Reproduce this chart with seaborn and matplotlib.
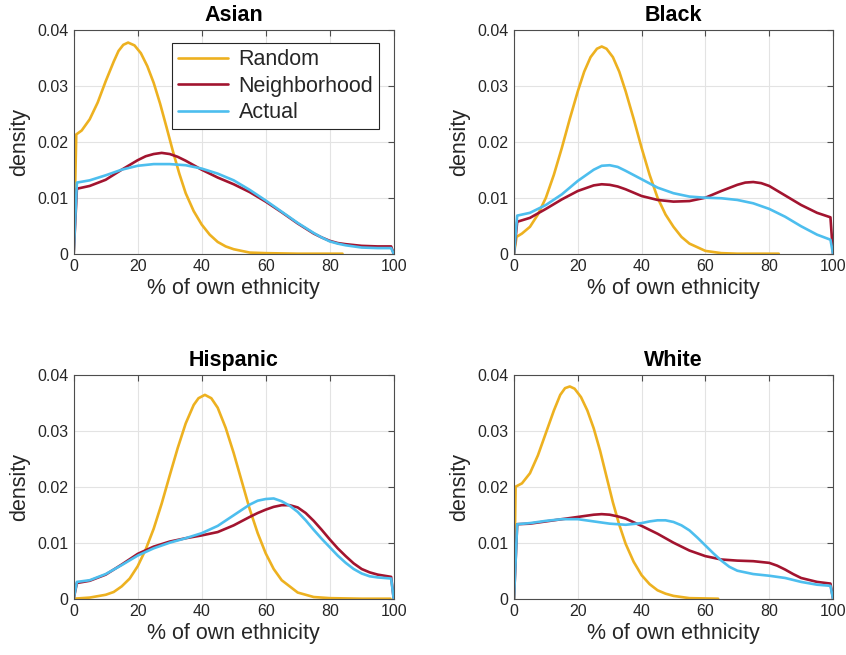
import matplotlib
matplotlib.use("Agg")
import matplotlib.pyplot as plt
import pandas as pd
import seaborn as sns

# ---- data: density of "% of own ethnicity" by group and scenario ----
series_names = ["Random", "Neighborhood", "Actual"]
series_colors = ["#EDB120", "#A2142F", "#4DBEEE"]
panel_titles = ["Asian", "Black", "Hispanic", "White"]

x_ticks = [0, 20, 40, 60, 80, 100]
y_ticks = [0, 0.01, 0.02, 0.03, 0.04]
y_tick_labels = ["0", "0.01", "0.02", "0.03", "0.04"]

# Asian
asian_random_x = [0, 0.8, 2.5, 5, 7.5, 10, 12.5, 14, 15.5, 17, 19, 21, 23, 25, 27, 29, 31, 33, 35, 37.5, 40, 42.5, 45, 47.5, 50, 55, 60, 70, 84]
asian_random_y = [0, 0.0213, 0.0220, 0.0240, 0.0270, 0.0308, 0.0343, 0.0362, 0.0373, 0.0377, 0.0372, 0.0358, 0.0335, 0.0305, 0.0268, 0.0226, 0.0183, 0.0143, 0.0108, 0.0076, 0.0052, 0.0034, 0.0021, 0.0013, 0.0008, 0.0002, 0.0001, 0.0, 0.0]
asian_neigh_x = [0, 1, 5, 10, 15, 20, 22.5, 25, 27.5, 30, 32.5, 35, 40, 45, 50, 55, 60, 65, 70, 75, 77.5, 80, 82.5, 85, 90, 95, 99.2, 100]
asian_neigh_y = [0, 0.0116, 0.0121, 0.0132, 0.0150, 0.0167, 0.0174, 0.0178, 0.0180, 0.0178, 0.0173, 0.0166, 0.0150, 0.0136, 0.0124, 0.0110, 0.0093, 0.0074, 0.0054, 0.0036, 0.0029, 0.0023, 0.0019, 0.0017, 0.0014, 0.0013, 0.0013, 0]
asian_actual_x = [0, 1, 5, 10, 15, 20, 25, 30, 35, 40, 45, 50, 55, 60, 65, 70, 75, 77.5, 80, 82.5, 85, 90, 95, 99.2, 100]
asian_actual_y = [0, 0.0127, 0.0131, 0.0140, 0.0150, 0.0157, 0.0160, 0.0160, 0.0158, 0.0152, 0.0143, 0.0131, 0.0114, 0.0095, 0.0075, 0.0055, 0.0037, 0.0029, 0.0022, 0.0018, 0.0015, 0.0011, 0.0010, 0.0010, 0]

# Black
black_random_x = [0, 0.8, 2.5, 5, 7.5, 10, 12.5, 15, 17.5, 20, 22, 24, 26, 27.5, 29, 31, 33, 35, 37.5, 40, 42.5, 45, 47.5, 50, 52.5, 55, 60, 65, 70, 83]
black_random_y = [0, 0.0030, 0.0036, 0.0048, 0.0070, 0.0100, 0.0141, 0.0189, 0.0241, 0.0290, 0.0325, 0.0351, 0.0366, 0.0370, 0.0366, 0.0351, 0.0325, 0.0290, 0.0241, 0.0189, 0.0141, 0.0100, 0.0070, 0.0048, 0.0030, 0.0018, 0.0005, 0.0001, 0.0, 0.0]
black_neigh_x = [0, 1, 5, 10, 15, 20, 25, 27.5, 30, 32.5, 35, 40, 45, 50, 55, 60, 65, 70, 72.5, 75, 77.5, 80, 85, 90, 95, 99.2, 100]
black_neigh_y = [0, 0.0057, 0.0064, 0.0080, 0.0097, 0.0112, 0.0122, 0.0124, 0.0123, 0.0120, 0.0115, 0.0103, 0.0096, 0.0093, 0.0094, 0.0100, 0.0112, 0.0123, 0.0127, 0.0128, 0.0126, 0.0121, 0.0104, 0.0087, 0.0073, 0.0065, 0]
black_actual_x = [0, 1, 5, 10, 15, 20, 25, 27.5, 30, 32.5, 35, 40, 45, 50, 55, 60, 65, 70, 75, 80, 85, 90, 95, 99.2, 100]
black_actual_y = [0, 0.0068, 0.0073, 0.0087, 0.0106, 0.0130, 0.0150, 0.0157, 0.0158, 0.0155, 0.0148, 0.0133, 0.0118, 0.0108, 0.0102, 0.0100, 0.0099, 0.0096, 0.0090, 0.0080, 0.0066, 0.0049, 0.0034, 0.0025, 0]

# Hispanic
hisp_random_x = [0, 5, 10, 12.5, 15, 17.5, 20, 22.5, 25, 27.5, 30, 32.5, 35, 37.5, 39, 41, 43, 45, 47.5, 50, 52.5, 55, 57.5, 60, 62.5, 65, 70, 75, 80, 90, 99]
hisp_random_y = [0, 0.0002, 0.0007, 0.0012, 0.0022, 0.0036, 0.0058, 0.0088, 0.0125, 0.0170, 0.0220, 0.0269, 0.0313, 0.0346, 0.0358, 0.0364, 0.0358, 0.0341, 0.0305, 0.0260, 0.0210, 0.0160, 0.0117, 0.0081, 0.0053, 0.0033, 0.0011, 0.0003, 0.0001, 0.0, 0.0]
hisp_neigh_x = [0, 1, 5, 10, 15, 20, 25, 30, 35, 40, 45, 50, 55, 57.5, 60, 62.5, 65, 67.5, 70, 72.5, 75, 77.5, 80, 82.5, 85, 87.5, 90, 92.5, 95, 99.2, 100]
hisp_neigh_y = [0, 0.0028, 0.0032, 0.0043, 0.0061, 0.0080, 0.0093, 0.0102, 0.0108, 0.0113, 0.0119, 0.0131, 0.0146, 0.0153, 0.0159, 0.0164, 0.0167, 0.0167, 0.0163, 0.0153, 0.0139, 0.0123, 0.0106, 0.0090, 0.0076, 0.0063, 0.0053, 0.0047, 0.0043, 0.0039, 0]
hisp_actual_x = [0, 1, 5, 10, 15, 20, 25, 30, 35, 40, 45, 50, 55, 57.5, 60, 62.5, 65, 67.5, 70, 72.5, 75, 77.5, 80, 82.5, 85, 87.5, 90, 92.5, 95, 99.2, 100]
hisp_actual_y = [0, 0.0030, 0.0033, 0.0044, 0.0060, 0.0077, 0.0090, 0.0100, 0.0108, 0.0117, 0.0130, 0.0149, 0.0168, 0.0175, 0.0178, 0.0179, 0.0174, 0.0166, 0.0155, 0.0140, 0.0123, 0.0107, 0.0092, 0.0077, 0.0064, 0.0053, 0.0045, 0.0040, 0.0038, 0.0036, 0]

# White
white_random_x = [0, 0.5, 2.5, 5, 7.5, 10, 12.5, 14.5, 16, 17.5, 19, 21, 23, 25, 27, 29, 31, 33, 35, 37.5, 40, 42.5, 45, 47.5, 50, 55, 64]
white_random_y = [0, 0.0200, 0.0206, 0.0224, 0.0256, 0.0296, 0.0336, 0.0364, 0.0376, 0.0379, 0.0375, 0.0360, 0.0336, 0.0304, 0.0264, 0.0218, 0.0172, 0.0132, 0.0098, 0.0066, 0.0042, 0.0026, 0.0015, 0.0009, 0.0005, 0.0001, 0.0]
white_neigh_x = [0, 1, 5, 10, 15, 20, 25, 27.5, 30, 32.5, 35, 40, 45, 50, 55, 60, 65, 70, 75, 80, 82.5, 85, 87.5, 90, 95, 99.2, 100]
white_neigh_y = [0, 0.0133, 0.0134, 0.0138, 0.0142, 0.0146, 0.0150, 0.0151, 0.0150, 0.0147, 0.0143, 0.0130, 0.0116, 0.0100, 0.0086, 0.0076, 0.0070, 0.0068, 0.0067, 0.0064, 0.0059, 0.0052, 0.0044, 0.0037, 0.0030, 0.0027, 0]
white_actual_x = [0, 1, 5, 10, 15, 20, 25, 30, 35, 40, 42.5, 45, 47.5, 50, 52.5, 55, 57.5, 60, 62.5, 65, 67.5, 70, 75, 80, 85, 90, 95, 99.2, 100]
white_actual_y = [0, 0.0133, 0.0135, 0.0139, 0.0142, 0.0142, 0.0138, 0.0134, 0.0132, 0.0135, 0.0138, 0.0140, 0.0140, 0.0137, 0.0131, 0.0122, 0.0109, 0.0095, 0.0081, 0.0068, 0.0057, 0.0050, 0.0044, 0.0041, 0.0037, 0.0030, 0.0025, 0.0023, 0]

panel_series = {
    "Asian": [(asian_random_x, asian_random_y), (asian_neigh_x, asian_neigh_y), (asian_actual_x, asian_actual_y)],
    "Black": [(black_random_x, black_random_y), (black_neigh_x, black_neigh_y), (black_actual_x, black_actual_y)],
    "Hispanic": [(hisp_random_x, hisp_random_y), (hisp_neigh_x, hisp_neigh_y), (hisp_actual_x, hisp_actual_y)],
    "White": [(white_random_x, white_random_y), (white_neigh_x, white_neigh_y), (white_actual_x, white_actual_y)],
}

# ---- style ----
sns.set_theme(style="white")
plt.rcParams["font.family"] = ["Liberation Sans", "DejaVu Sans"]
plt.rcParams["axes.edgecolor"] = "#262626"
plt.rcParams["axes.linewidth"] = 0.8

fig = plt.figure(figsize=(8.46, 6.55), dpi=100)
W, H = 846, 655
# axes boxes in pixels: (left, top, width, height)
boxes = [(73.7, 29.7, 320, 224), (514, 29.7, 319, 224),
         (73.7, 374.7, 320, 224), (514, 374.7, 319, 224)]

palette = dict(zip(series_names, series_colors))

for i, (title, box) in enumerate(zip(panel_titles, boxes)):
    l, t, w, h = box
    ax = fig.add_axes([l / W, 1 - (t + h) / H, w / W, h / H])
    frames = []
    for name, (xs, ys) in zip(series_names, panel_series[title]):
        frames.append(pd.DataFrame({"x": xs, "density": ys, "series": name}))
    df = pd.concat(frames, ignore_index=True)
    sns.lineplot(data=df, x="x", y="density", hue="series", hue_order=series_names,
                 palette=palette, estimator=None, sort=False, linewidth=1.9,
                 legend=(i == 0), ax=ax)

    ax.set_xlim(0, 100)
    ax.set_ylim(0, 0.04)
    ax.set_xticks(x_ticks)
    ax.set_xticklabels([str(v) for v in x_ticks])
    ax.set_yticks(y_ticks)
    ax.set_yticklabels(y_tick_labels)
    ax.grid(True, color="#e3e3e3", linewidth=0.8)
    ax.set_axisbelow(True)
    for s in ax.spines.values():
        s.set_visible(True)
        s.set_color("#4d4d4d")
        s.set_linewidth(0.8)
    ax.tick_params(direction="in", length=4, width=0.8, top=True, right=True,
                   colors="#4d4d4d", labelcolor="#262626", labelsize=11.5, pad=4)
    ax.set_xlabel("% of own ethnicity", fontsize=15.5, color="#262626", labelpad=3)
    ax.set_ylabel("density", fontsize=15.5, color="#262626", labelpad=5)
    ax.set_title(title, fontsize=15.5, fontweight="bold", color="black", pad=6)

    if i == 0:
        handles, labels = ax.get_legend_handles_labels()
        for hd in handles:
            hd.set_linewidth(1.9)
        leg = ax.legend(handles, labels, loc="upper right", bbox_to_anchor=(0.955, 0.939),
                        borderaxespad=0, fontsize=15.5, frameon=True, fancybox=False,
                        edgecolor="#262626", framealpha=1, handlelength=2.3,
                        handletextpad=0.5, labelspacing=0.25, borderpad=0.28)
        leg.get_frame().set_linewidth(0.8)

fig.savefig("out.png", dpi=100)
